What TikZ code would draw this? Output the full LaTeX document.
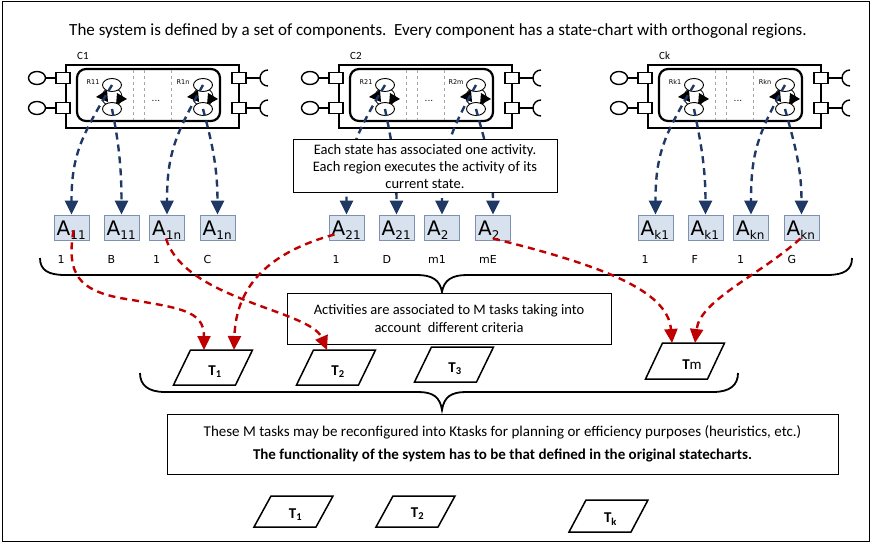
\documentclass[tikz,border=0pt]{standalone}
\usepackage{fontspec}
\setmainfont{Carlito}
\newfontfamily\dvsans{DejaVu Sans}
\usetikzlibrary{arrows.meta,shapes.geometric}

\definecolor{navyline}{RGB}{31,56,100}
\definecolor{taskred}{RGB}{192,0,0}
\definecolor{actfill}{RGB}{216,225,238}
\definecolor{actdraw}{RGB}{125,146,176}

\tikzset{
  compbox/.style={draw, line width=1.8pt, fill=white, inner sep=0pt,
    minimum width=173pt, minimum height=63pt, anchor=north west},
  regionbox/.style={draw, line width=2.2pt, rounded corners=9pt},
  sepline/.style={draw=gray!70, dashed, line width=0.6pt},
  port/.style={draw, line width=1.4pt, fill=white, inner sep=0pt,
    minimum width=14pt, minimum height=11pt},
  ball/.style={ellipse, draw, line width=1.4pt, fill=white, inner sep=0pt,
    minimum width=17pt, minimum height=13pt},
  wire/.style={line width=1.4pt},
  state/.style={ellipse, draw, line width=0.9pt, fill=white, inner sep=0pt,
    minimum width=19pt, minimum height=13pt},
  activation/.style={draw=navyline, line width=2.4pt, dash pattern=on 7pt off 5pt,
    -{Triangle[length=14pt,width=13pt]}},
  mapping/.style={draw=taskred, line width=2.4pt, dash pattern=on 7pt off 5pt,
    -{Triangle[length=14pt,width=13pt]}},
  actbox/.style={draw=actdraw, fill=actfill, line width=0.8pt,
    minimum width=35pt, minimum height=25pt, inner sep=0pt},
  note/.style={draw, line width=1pt, fill=white, align=center, inner sep=0pt},
  taskline/.style={draw, line width=1.5pt, fill=white},
  tasklabel/.style={inner sep=0pt, font=\fontsize{15}{15}\selectfont\bfseries},
  bracket/.style={draw, line width=1.8pt},
}

% two states of one orthogonal region, with their transitions
\newcommand\regionstates[4]{% #1 name, #2 x of states, #3 x of label, #4 label
  \node[font=\dvsans\fontsize{6.5}{6.5}\selectfont, inner sep=0pt] (#1-label) at (#3,82) {#4};
  \draw[line width=0.8pt] (#2-5,89) .. controls (#2-12,93) and (#2-12,101) .. (#2-5,105);
  \draw[line width=0.8pt] (#2+5,105) .. controls (#2+12,101) and (#2+12,93) .. (#2+5,89);
  \fill (#2-5,90) -- (#2-4,102) -- (#2-16,97) -- cycle;
  \fill (#2+5,93) -- (#2+4,105) -- (#2+15,99) -- cycle;
  \node[state] (#1-top) at (#2,85) {};
  \node[state] (#1-bot) at (#2,109) {};
}

% a component: ports, state-chart frame and two regions
\newcommand\component[5]{% #1 name, #2 left edge, #3 title, #4 first region, #5 last region
  \node[compbox] (#1) at (#2,64) {};
  \node[font=\fontsize{11}{11}\selectfont, anchor=base west, inner sep=0pt] (#1-name) at (#2+12,60) {#3};
  \draw[regionbox] (#2+12,69) rectangle (#2+155,121);
  \draw[sepline] (#2+68,70) -- (#2+68,120);
  \draw[sepline] (#2+79,70) -- (#2+79,120);
  \draw[sepline] (#2+106,70) -- (#2+106,120);
  \node[font=\dvsans\fontsize{9}{9}\selectfont, inner sep=0pt] (#1-dots) at (#2+91,101) {...};
  \regionstates{#1-a}{#2+47}{#2+28}{#4}
  \regionstates{#1-b}{#2+138}{#2+118}{#5}
  \foreach \py in {78,108} {
    \node[ball] (#1-bl\py) at (#2-28,\py) {};
    \node[port] (#1-pl\py) at (#2-2,\py) {};
    \draw[wire] (#1-bl\py) -- (#1-pl\py);
    \node[port] (#1-pr\py) at (#2+174,\py) {};
    \coordinate (#1-sk\py) at (#2+195,\py);
    \draw[wire] (#1-pr\py) -- (#1-sk\py);
    \draw[wire] (#2+203,\py-8) arc[start angle=90, end angle=270, radius=8pt];
  }
}

% an activity box with its subscript and the tag below it
\newcommand\activity[4]{% #1 name, #2 centre x, #3 subscript, #4 tag
  \node[actbox] (#1) at (#2,227.5) {};
  \node[anchor=base west, inner sep=0pt, font=\dvsans\fontsize{20}{20}\selectfont]
    (#1-txt) at (#2-15,236) {A\raisebox{-4pt}{\fontsize{12}{12}\selectfont #3}};
  \node[anchor=west, inner sep=0pt, font=\dvsans\fontsize{11}{11}\selectfont]
    (#1-tag) at (#2-14,259) {#4};
}

% a task parallelogram
\newcommand\task[7]{% #1 name, #2 centre x, #3 top y, #4 bottom y, #5 label dx, #6 label dy, #7 label
  \draw[taskline] (#2-22.5,#3) -- (#2+39.5,#3) -- (#2+22.5,#4) -- (#2-39.5,#4) -- cycle;
  \node[tasklabel] (#1) at (#2+#5,{(#3+#4)/2+#6}) {#7};
}

% links from the states of a component to its activities
\newcommand\activations[5]{% #1 component, #2..#5 activity boxes
  \draw[activation] (#1-a-top.center) .. controls +(-30,50) and +(0,-60) .. (#2.north);
  \draw[activation] (#1-a-bot.center) .. controls +(6,30) and +(0,-50) .. (#3.north);
  \draw[activation] (#1-b-top.center) .. controls +(-28,50) and +(0,-60) .. (#4.north);
  \draw[activation] (#1-b-bot.center) .. controls +(8,30) and +(0,-50) .. (#5.north);
}

\begin{document}
\begin{tikzpicture}[x=1pt,y=-1pt]
\useasboundingbox (0,0) rectangle (872,545);
\draw[line width=1pt] (2,2) rectangle (869,541);

\node[font=\fontsize{17}{17}\selectfont, inner sep=0pt] (title) at (438,31)
  {The system is defined by a set of components.\ \ Every component has a state-chart with orthogonal regions.};

% components
\component{c1}{65}{C1}{R11}{R1n}
\component{c2}{338}{C2}{R21}{R2m}
\component{ck}{647}{Ck}{Rk1}{Rkn}

% activities
\activity{a11}{71.5}{11}{1}
\activity{a11b}{121.5}{11}{B}
\activity{a1n}{167}{1n}{1}
\activity{a1nb}{217.5}{1n}{C}
\activity{a21}{346.5}{21}{1}
\activity{a21b}{396.5}{21}{D}
\activity{a2m}{442}{2}{m1}
\activity{a2mb}{493}{2}{mE}
\activity{ak1}{655.5}{k1}{1}
\activity{ak1b}{705.5}{k1}{F}
\activity{akn}{751}{kn}{1}
\activity{aknb}{801.5}{kn}{G}

\activations{c1}{a11}{a11b}{a1n}{a1nb}
\activations{c2}{a21}{a21b}{a2m}{a2mb}
\activations{ck}{ak1}{ak1b}{akn}{aknb}

\node[note, minimum width=264pt, minimum height=53pt, font=\fontsize{14.5}{17}\selectfont]
  (statenote) at (425,166.5)
  {Each state has associated one activity.\\Each region executes the activity of its\\current state.};

% brace over all activities
\draw[bracket] (40,258) .. controls (40,270) and (48,275) .. (65,275) -- (417,275)
  .. controls (432,275) and (440,280) .. (442,292)
  .. controls (444,280) and (452,275) .. (467,275) -- (827,275)
  .. controls (844,275) and (852,270) .. (852,258);

\node[note, minimum width=324pt, minimum height=51pt, font=\fontsize{14.5}{18}\selectfont]
  (actnote) at (449,318.5)
  {Activities are associated to M tasks taking into\\account\ \ different criteria};

% M tasks
\task{t1}{213}{350}{385}{2}{4}{T\textsubscript{1}}
\task{t2}{336}{350}{385}{2}{4}{T\textsubscript{2}}
\task{t3}{454}{347}{382}{1}{4}{T\textsubscript{3}}
\task{tm}{685}{343}{379}{7}{4}{T\mdseries m}
\coordinate (t1in1) at (204,350);
\coordinate (t1in2) at (234,350);
\coordinate (t2in) at (327,350);
\coordinate (tmin1) at (672,343);
\coordinate (tmin2) at (695,343);

% activities mapped to tasks
\draw[mapping] ([xshift=2pt,yshift=-3pt]a11.center) .. controls (66,275) and (80,290) .. (120,298)
  .. controls (180,308) and (204,310) .. (t1in1);
\draw[mapping] ([xshift=-12pt,yshift=-7pt]a21.center) .. controls (270,252) and (236,285) .. (t1in2);
\draw[mapping] ([xshift=-1pt,yshift=-11pt]a1n.center) .. controls (185,300) and (310,310) .. (t2in);
\draw[mapping] ([yshift=-11pt]a2mb.center) .. controls (600,265) and (668,290) .. (tmin1);
\draw[mapping] ([xshift=-1pt,yshift=-11pt]aknb.center) .. controls (760,275) and (700,300) .. (tmin2);

% brace over the M tasks
\draw[bracket] (140,373) .. controls (140,385) and (148,392) .. (165,392) -- (418,392)
  .. controls (433,392) and (440,397) .. (442,410)
  .. controls (444,397) and (451,392) .. (466,392) -- (713,392)
  .. controls (730,392) and (738,385) .. (738,373);

\node[note, minimum width=671pt, minimum height=60pt, font=\fontsize{15}{23}\selectfont]
  (reconf) at (502.5,444)
  {These M tasks may be reconfigured into Ktasks for planning or efficiency purposes (heuristics, etc.)\\
   \textbf{The functionality of the system has to be that defined in the original statecharts.}};

% K tasks
\task{k1}{293.5}{496}{527}{2}{3}{T\textsubscript{1}}
\task{k2}{415.5}{496}{527}{2}{2}{T\textsubscript{2}}
\task{kk}{608.5}{500}{532}{2}{3}{T\textsubscript{k}}
\end{tikzpicture}
\end{document}
